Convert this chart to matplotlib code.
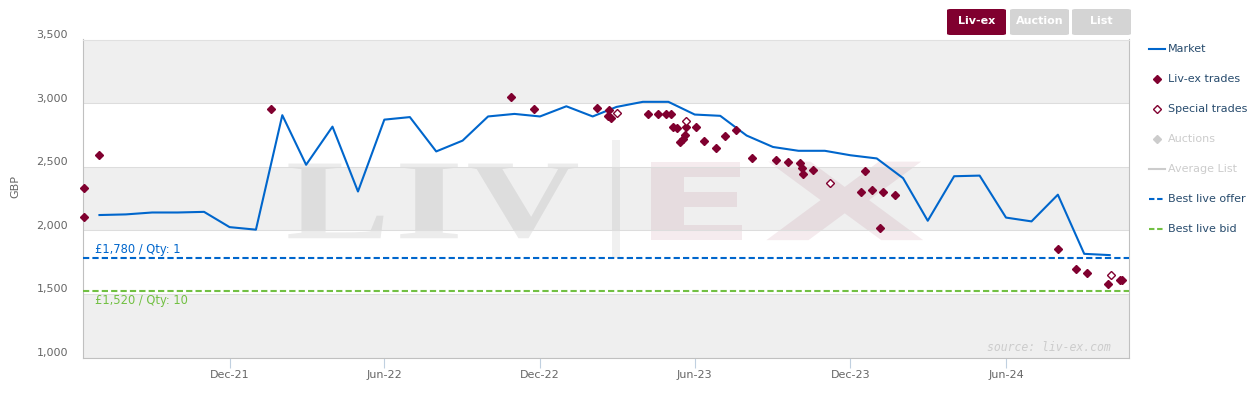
import numpy as np
import pandas as pd
import matplotlib
matplotlib.use('Agg')
from matplotlib import pyplot as plt
from matplotlib.lines import Line2D
from matplotlib.patches import PathPatch, Rectangle, FancyBboxPatch
from matplotlib.textpath import TextPath
from matplotlib.font_manager import FontProperties
from matplotlib.transforms import Affine2D

# monthly market price, Jul-21 .. Oct-24
market_months = pd.date_range('2021-07-01', periods=40, freq='MS')
market_values = [2120, 2125, 2140, 2140, 2145, 2025, 2005, 2905, 2515, 2815,
                 2305, 2870, 2890, 2620, 2705, 2895, 2915, 2895, 2975, 2895,
                 2970, 3010, 3010, 2910, 2900, 2745, 2655, 2625, 2625, 2590,
                 2565, 2410, 2075, 2425, 2430, 2100, 2070, 2280, 1815, 1805]

trade_dates = ['2021-06-13', '2021-06-13', '2021-06-30', '2022-01-19', '2022-10-28',
               '2022-11-24', '2023-02-06', '2023-02-20', '2023-02-19', '2023-02-22',
               '2023-04-07', '2023-04-19', '2023-04-28', '2023-05-04', '2023-05-07',
               '2023-05-11', '2023-05-22', '2023-06-02', '2023-05-21', '2023-05-18',
               '2023-05-15', '2023-06-12', '2023-06-26', '2023-07-06', '2023-07-19',
               '2023-08-07', '2023-09-04', '2023-09-19', '2023-10-03', '2023-10-05',
               '2023-10-06', '2023-10-18', '2023-12-13', '2023-12-18', '2023-12-26',
               '2024-01-05', '2024-01-08', '2024-01-22', '2024-08-01', '2024-08-22',
               '2024-09-04', '2024-09-29', '2024-10-13', '2024-10-15']
trade_values = [2330, 2105, 2590, 2950, 3045,
                2950, 2960, 2945, 2895, 2885,
                2915, 2915, 2915, 2915, 2815,
                2805, 2815, 2810, 2750, 2715,
                2695, 2705, 2650, 2745, 2785,
                2570, 2550, 2540, 2530, 2490,
                2445, 2475, 2300, 2465, 2315,
                2020, 2300, 2280, 1850, 1695,
                1665, 1580, 1610, 1610]

special_dates = ['2023-03-01', '2023-05-22', '2023-11-07', '2024-10-02']
special_values = [2925, 2860, 2375, 1645]

best_offer = 1780
offer_qty = 1
best_bid = 1520
bid_qty = 10

x_tick_dates = ['2021-12-01', '2022-06-01', '2022-12-01', '2023-06-01', '2023-12-01', '2024-06-01']
x_tick_labels = ['Dec-21', 'Jun-22', 'Dec-22', 'Jun-23', 'Dec-23', 'Jun-24']
y_ticks = [1000, 1500, 2000, 2500, 3000, 3500]
y_tick_labels = ['1,000', '1,500', '2,000', '2,500', '3,000', '3,500']

legend_labels = ['Market', 'Liv-ex trades', 'Special trades', 'Auctions',
                 'Average List', 'Best live offer', 'Best live bid']
buttons = ['Liv-ex', 'Auction', 'List']

blue = '#0066CC'
green = '#72C043'
maroon = '#80002F'
W, H = 1255, 397

fig = plt.figure(figsize=(W / 100, H / 100), dpi=100)
ax = fig.add_axes([83.3 / W, (H - 357.5) / H, 1046 / W, 318 / H])

ax.set_xlim(pd.Timestamp('2021-06-12'), pd.Timestamp('2024-10-24'))
ax.set_ylim(1000, 3500)

for lo, hi in zip(y_ticks[:-1], y_ticks[1:]):
    if (lo // 500) % 2 == 0:
        ax.axhspan(lo, hi, color='#EFEFEF', lw=0, zorder=0)
ax.set_yticks(y_ticks)
ax.set_yticklabels(y_tick_labels)
ax.grid(axis='y', color='#DDDDDD', lw=0.75, zorder=1)
ax.set_axisbelow(True)


def fitted_text(s, box, color, alpha, fp):
    tp = TextPath((0, 0), s, size=100, prop=fp)
    ext = tp.get_extents()
    x0, y0, x1, y1 = box
    tr = (Affine2D().translate(-ext.x0, -ext.y0)
          .scale((x1 - x0) / ext.width, (y1 - y0) / ext.height).translate(x0, y0))
    ax.add_patch(PathPatch(tr.transform_path(tp), transform=ax.transAxes,
                           fc=color, ec='none', alpha=alpha, zorder=0.5))


# watermark
serif = FontProperties(family='Liberation Serif', weight='bold')
sans = FontProperties(family='DejaVu Sans', weight='bold')
fitted_text('L', (0.196, 0.375, 0.287, 0.61), 'black', 0.075, serif)
fitted_text('I', (0.303, 0.375, 0.358, 0.61), 'black', 0.075, serif)
fitted_text('V', (0.368, 0.375, 0.473, 0.61), 'black', 0.075, serif)
ax.add_patch(Rectangle((0.5057, 0.313), 0.0077, 0.371, transform=ax.transAxes,
                       fc='black', alpha=0.06, lw=0, zorder=0.5))
fitted_text('E', (0.543, 0.369, 0.630, 0.616), maroon, 0.08, sans)
fitted_text('X', (0.653, 0.369, 0.803, 0.616), maroon, 0.08, sans)

ax.plot(market_months, market_values, color=blue, lw=1.5, zorder=3)
ax.plot(pd.to_datetime(trade_dates), trade_values, ls='none', marker='D', ms=4.3,
        color=maroon, zorder=4, clip_on=False)
ax.plot(pd.to_datetime(special_dates), special_values, ls='none', marker='D', ms=4.3,
        mfc='white', mec=maroon, mew=1, zorder=4)

ax.axhline(best_offer, color=blue, lw=1.5, ls=(0, (3, 1.5)), zorder=3)
ax.axhline(best_bid, color=green, lw=1.5, ls=(0, (3, 1.5)), zorder=3)
ax.annotate(f'£{best_offer:,} / Qty: {offer_qty}', (0.0112, best_offer),
            xycoords=('axes fraction', 'data'), xytext=(0, 2), textcoords='offset points',
            va='bottom', ha='left', color=blue, fontsize=8.3)
ax.annotate(f'£{best_bid:,} / Qty: {bid_qty}', (0.0112, best_bid),
            xycoords=('axes fraction', 'data'), xytext=(0, -1.7), textcoords='offset points',
            va='top', ha='left', color=green, fontsize=8.3)

ax.text(0.9825, 0.031, 'source: liv-ex.com', transform=ax.transAxes, ha='right', va='center',
        family='DejaVu Sans Mono', style='italic', fontsize=8.3, color='#CCCCCC')

ax.set_xticks(pd.to_datetime(x_tick_dates))
ax.set_xticklabels(x_tick_labels)
ax.tick_params(axis='x', length=7, width=0.8, color='#C0D0E0', labelsize=8,
               labelcolor='#666666', pad=2)
ax.tick_params(axis='y', length=0, labelsize=8, labelcolor='#666666', pad=11)
for lab in ax.get_yticklabels():
    lab.set_transform(lab.get_transform() + Affine2D().translate(0, 5.5))

for side in ['left', 'bottom', 'right']:
    ax.spines[side].set_color('#C0C0C0')
ax.spines['top'].set_color('#E0E0E0')

ax.set_ylabel('GBP', color='#666666', fontsize=8)
ax.yaxis.set_label_coords(-0.0605, 0.537)

handles = [
    Line2D([], [], color=blue, lw=1.5),
    Line2D([], [], ls='none', marker='D', ms=4, color=maroon),
    Line2D([], [], ls='none', marker='D', ms=4, mfc='white', mec=maroon, mew=1),
    Line2D([], [], ls='none', marker='D', ms=4, color='#CCCCCC'),
    Line2D([], [], color='#CCCCCC', lw=1.5),
    Line2D([], [], color=blue, lw=1.5, ls=(0, (2.6, 1.3))),
    Line2D([], [], color=green, lw=1.5, ls=(0, (2.6, 1.3))),
]
label_colors = ['#274B6D'] * 3 + ['#CCCCCC'] * 2 + ['#274B6D'] * 2
ax.legend(handles, legend_labels, loc='upper left', bbox_to_anchor=(1149 / W, 1 - 44.5 / H),
          bbox_transform=fig.transFigure, frameon=False, fontsize=8, labelcolor=label_colors,
          handlelength=1.45, handletextpad=0.25, labelspacing=1.8, borderpad=0,
          borderaxespad=0, numpoints=1)

# range buttons above the plot
btn_left = [947, 1010, 1072]
btn_colors = [maroon, '#D4D4D4', '#D4D4D4']
for name, left, col in zip(buttons, btn_left, btn_colors):
    fig.patches.append(FancyBboxPatch((left / W, 1 - 35 / H), 59 / W, 26 / H,
                                      boxstyle='round,pad=0,rounding_size=0.003',
                                      transform=fig.transFigure, fc=col, ec='none'))
    fig.text((left + 29.5) / W, 1 - 21.5 / H, name, ha='center', va='center',
             color='white', fontsize=8, weight='bold')

fig.savefig('out.png', dpi=100)
